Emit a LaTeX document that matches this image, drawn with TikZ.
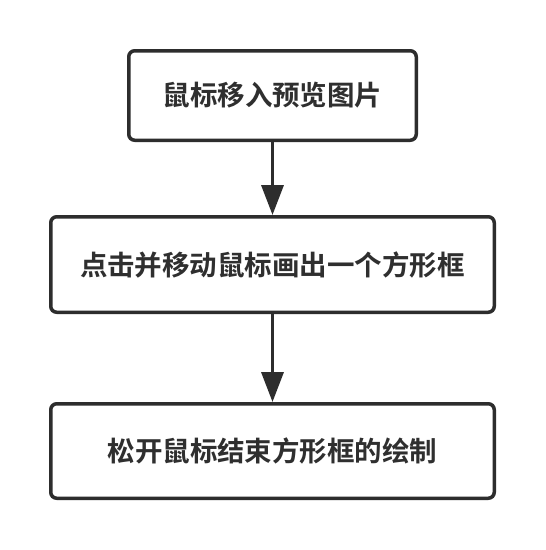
\documentclass[tikz,border=0pt]{standalone}
\usepackage{fontspec}
\newfontfamily\cjk{Noto Sans CJK SC}[BoldFont={Noto Sans CJK SC Bold}]
\usetikzlibrary{arrows.meta}
\definecolor{ink}{HTML}{2D2D2D}
\definecolor{txt}{HTML}{2F2F2F}
\tikzset{
  stepbox/.style={draw=ink, line width=3.5pt, rounded corners=6pt, fill=white,
    text=txt, font=\cjk\bfseries\fontsize{27.5}{30}\selectfont, inner sep=0pt},
  flowarrow/.style={draw=ink, line width=3.5pt, -{Triangle[length=30pt,width=22pt]}}
}
\begin{document}
\begin{tikzpicture}[x=1pt,y=-1pt]
\useasboundingbox[fill=white] (0,0) rectangle (546,550);
\node[stepbox, minimum width=287.5pt, minimum height=89.5pt] (a) at (272.5,95.5) {鼠标移入预览图片};
\node[stepbox, minimum width=443.5pt, minimum height=95.5pt] (b) at (272.5,264.5) {点击并移动鼠标画出一个方形框};
\node[stepbox, minimum width=443.5pt, minimum height=94.5pt] (c) at (272.5,451) {松开鼠标结束方形框的绘制};
\draw[flowarrow] (a) -- (b);
\draw[flowarrow] (b) -- (c);
\end{tikzpicture}
\end{document}
